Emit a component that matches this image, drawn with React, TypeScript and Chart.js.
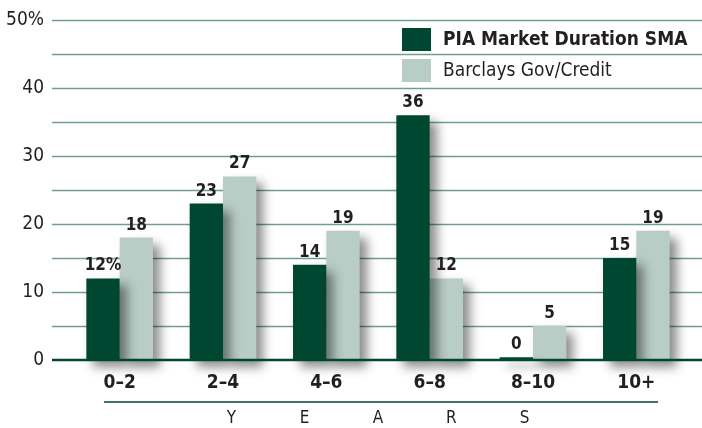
import React, { useEffect, useRef } from "react";
import { Chart, registerables } from "chart.js";

Chart.register(...registerables);

const categories = ["0–2", "2–4", "4–6", "6–8", "8–10", "10+"];
const piaValues = [12, 23, 14, 36, 0.4, 15];
const barclaysValues = [18, 27, 19, 12, 5, 19];
const seriesNames = ["PIA Market Duration SMA", "Barclays Gov/Credit"];
const yTicks = [0, 10, 20, 30, 40, 50];
const axisTitle = "YEARS";

const DARK = "#004731";
const LIGHT = "#b8cdc5";
const GRID = "#6f9e8c";
const TEXT = "#231f20";
const FONT = "'Liberation Sans Narrow', 'DejaVu Sans Condensed', 'Noto Sans', sans-serif";

export default function App() {
  const ref = useRef<HTMLCanvasElement | null>(null);

  useEffect(() => {
    const canvas = ref.current;
    if (!canvas) return;

    const decor = {
      id: "decor",
      beforeDatasetsDraw(chart: any) {
        const { ctx, scales } = chart;
        const y = scales.y;
        ctx.save();
        ctx.strokeStyle = GRID;
        ctx.lineWidth = 1.5;
        for (let v = 5; v <= 50; v += 5) {
          const py = Math.round(y.getPixelForValue(v)) + 0.5;
          ctx.beginPath();
          ctx.moveTo(52, py);
          ctx.lineTo(702, py);
          ctx.stroke();
        }
        // y tick labels
        ctx.fillStyle = TEXT;
        ctx.font = `19px ${FONT}`;
        ctx.textAlign = "right";
        ctx.textBaseline = "middle";
        yTicks.forEach((v) => {
          ctx.fillText(v === 50 ? "50%" : `${v}`, 44, y.getPixelForValue(v));
        });
        ctx.restore();
        ctx.save();
        ctx.shadowColor = "rgba(0,0,0,0.45)";
        ctx.shadowBlur = 10;
        ctx.shadowOffsetX = 7;
        ctx.shadowOffsetY = 7;
      },
      afterDatasetsDraw(chart: any) {
        const { ctx, scales, chartArea } = chart;
        ctx.restore();
        const y = scales.y;
        // zero line
        ctx.save();
        ctx.strokeStyle = DARK;
        ctx.lineWidth = 2.5;
        const py0 = y.getPixelForValue(0);
        ctx.beginPath();
        ctx.moveTo(52, py0);
        ctx.lineTo(702, py0);
        ctx.stroke();
        ctx.restore();

        // data labels
        ctx.save();
        ctx.fillStyle = TEXT;
        ctx.font = `bold 17px ${FONT}`;
        ctx.textAlign = "center";
        ctx.textBaseline = "bottom";
        chart.data.datasets.forEach((ds: any, di: number) => {
          const meta = chart.getDatasetMeta(di);
          meta.data.forEach((el: any, i: number) => {
            const val = Math.round(ds.data[i]);
            const txt = di === 0 && i === 0 ? `${val}%` : `${val}`;
            ctx.fillText(txt, el.x, el.y - 4);
          });
        });
        ctx.restore();

        // legend
        ctx.save();
        const rows = [
          { c: DARK, t: seriesNames[0], bold: true, y: 39 },
          { c: LIGHT, t: seriesNames[1], bold: false, y: 70 },
        ];
        rows.forEach((r) => {
          ctx.fillStyle = r.c;
          ctx.fillRect(402, r.y - 11, 29, 23);
          ctx.fillStyle = TEXT;
          ctx.font = `${r.bold ? "bold " : ""}19px ${FONT}`;
          ctx.textAlign = "left";
          ctx.textBaseline = "middle";
          ctx.fillText(r.t, 443, r.y + 1);
        });
        ctx.restore();

        // underline and axis title
        ctx.save();
        ctx.strokeStyle = DARK;
        ctx.lineWidth = 1.5;
        ctx.beginPath();
        ctx.moveTo(chartArea.left + 36, 402);
        ctx.lineTo(chartArea.right - 30, 402);
        ctx.stroke();
        ctx.fillStyle = TEXT;
        ctx.font = `17px ${FONT}`;
        ctx.textAlign = "center";
        ctx.textBaseline = "middle";
        const cx = (chartArea.left + chartArea.right) / 2;
        const letters = axisTitle.split("");
        letters.forEach((ch, i) => {
          ctx.fillText(ch, cx + (i - (letters.length - 1) / 2) * 73.3, 419);
        });
        ctx.restore();
      },
    };

    const chart = new Chart(canvas, {
      type: "bar",
      data: {
        labels: categories,
        datasets: [
          { label: seriesNames[0], data: piaValues, backgroundColor: DARK, clip: false as any },
          { label: seriesNames[1], data: barclaysValues, backgroundColor: LIGHT, clip: false as any },
        ],
      },
      options: {
        responsive: false,
        animation: false,
        layout: { padding: { left: 0, right: 14, top: 20, bottom: 0 } },
        datasets: { bar: { barPercentage: 1, categoryPercentage: 0.645 } },
        plugins: { legend: { display: false }, tooltip: { enabled: false } },
        scales: {
          x: {
            grid: { display: false, drawTicks: false },
            border: { display: false },
            ticks: {
              color: TEXT,
              font: { family: FONT, size: 19, weight: "bold" },
              padding: 12,
            },
            afterFit(s: any) {
              s.height = 68;
            },
          },
          y: {
            min: 0,
            max: 50,
            grid: { display: false, drawTicks: false },
            border: { display: false },
            ticks: { display: false, stepSize: 10 },
            afterFit(s: any) {
              s.width = 68;
            },
          },
        },
      },
      plugins: [decor],
    });
    return () => chart.destroy();
  }, []);

  return (
    <div style={{ position: "absolute", left: 0, top: 0, width: 702, height: 428, background: "#fff" }}>
      <canvas ref={ref} width={702} height={428} style={{ display: "block" }} />
    </div>
  );
}
